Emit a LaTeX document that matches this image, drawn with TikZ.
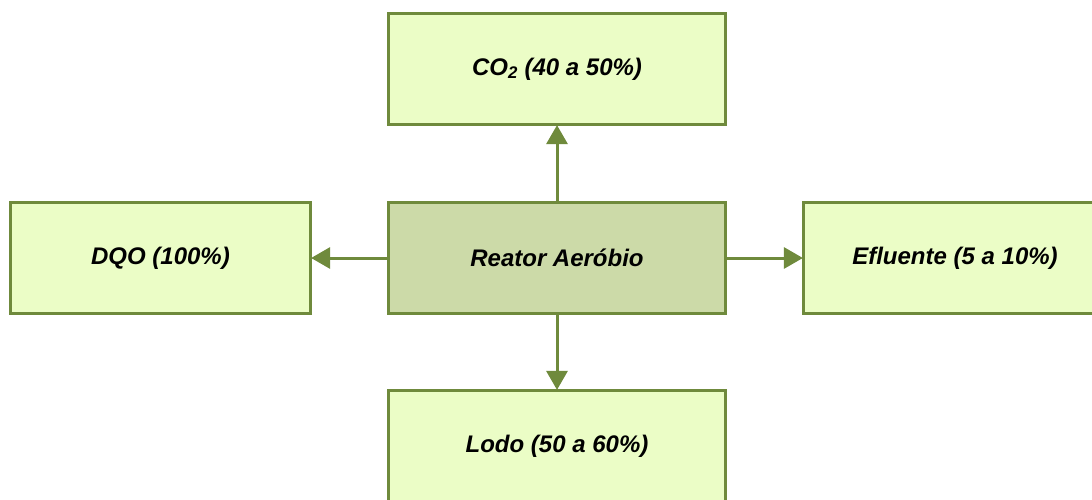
\documentclass[tikz,border=0pt]{standalone}
\usepackage{fontspec}
\setmainfont{Liberation Sans}
\usetikzlibrary{arrows.meta}

\definecolor{olivebord}{HTML}{6F8A3C}
\definecolor{lightfill}{HTML}{EBFDC6}
\definecolor{darkfill}{HTML}{CCDAA8}

\tikzset{
	caixa/.style={draw=olivebord, line width=3.2pt, fill=lightfill, minimum width=337pt, minimum height=111pt, inner sep=0pt, font=\fontsize{24}{28}\selectfont\bfseries\itshape},
	fluxo/.style={draw=olivebord, line width=3pt, -{Triangle[width=21pt,length=19pt]}, shorten >=-1pt}
}

\begin{document}
\begin{tikzpicture}[x=1pt, y=-1pt]
	%%%%% START %%%%%
	
	\clip (0, 0) rectangle (1092, 499);
	\useasboundingbox (0, 0) rectangle (1092, 499);
	\fill[white] (0, 0) rectangle (1092, 499);
	
	\node[caixa, fill=darkfill] (reator) at (557, 258) {Reator Aeróbio};
	\node[caixa] (co2) at (557, 69) {CO\textsubscript{2} (40 a 50\%)};
	\node[caixa, minimum width=300pt] (dqo) at (160.5, 258) {DQO (100\%)};
	\node[caixa, minimum width=303pt] (efluente) at (955, 258) {Efluente (5 a 10\%)};
	\node[caixa] (lodo) at (557, 446) {Lodo (50 a 60\%)};
	
	\draw[fluxo] (reator) -- (co2);
	\draw[fluxo] (reator) -- (dqo);
	\draw[fluxo] (reator) -- (efluente);
	\draw[fluxo] (reator) -- (lodo);
	
	%%%%% END %%%%%
\end{tikzpicture}
\end{document}
